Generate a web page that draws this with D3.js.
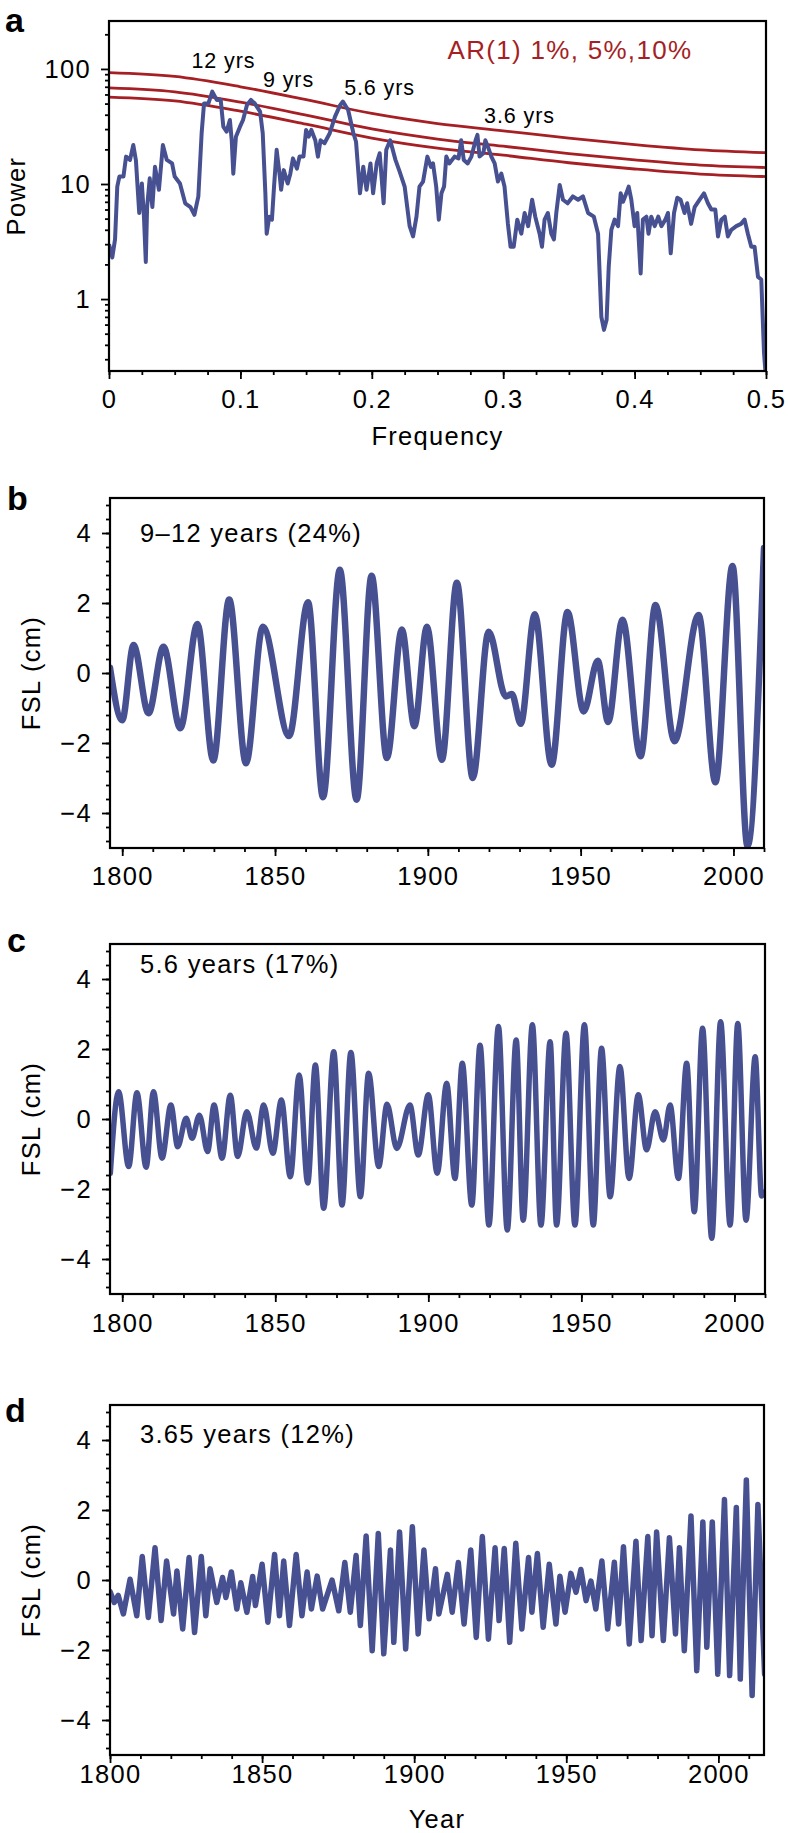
<!DOCTYPE html>
<html><head><meta charset="utf-8">
<script src="https://cdn.jsdelivr.net/npm/d3@7"></script>
<style>
body{margin:0;background:#fff}
svg{display:block}
</style></head>
<body>
<svg id="chart" width="788" height="1833"></svg>
<script>
// ---------- DATA ----------
// Panel a: power spectrum
const specFreq = [0,0.0025,0.0046,0.0063,0.0079,0.011,0.013,0.016,0.0185,0.0205,0.023,0.025,0.0266,0.028,0.029,0.031,0.033,0.035,0.038,0.041,0.044,0.048,0.050,0.054,0.058,0.062,0.065,0.068,0.0705,0.0723,0.0756,0.0786,0.082,0.085,0.087,0.0895,0.092,0.0934,0.0946,0.0966,0.0997,0.102,0.105,0.108,0.111,0.115,0.117,0.119,0.120,0.122,0.124,0.1256,0.1276,0.130,0.131,0.133,0.136,0.138,0.140,0.143,0.145,0.148,0.150,0.152,0.154,0.157,0.159,0.161,0.164,0.168,0.172,0.176,0.178,0.182,0.186,0.188,0.191,0.1935,0.196,0.199,0.201,0.2037,0.206,0.209,0.211,0.214,0.218,0.221,0.225,0.2288,0.2314,0.234,0.2363,0.239,0.2423,0.245,0.2466,0.249,0.251,0.253,0.255,0.2567,0.259,0.263,0.266,0.268,0.270,0.273,0.2758,0.279,0.2804,0.282,0.2849,0.2864,0.2884,0.291,0.2935,0.296,0.2986,0.301,0.3036,0.3056,0.308,0.3107,0.3138,0.3163,0.319,0.322,0.3244,0.3277,0.3295,0.3315,0.334,0.3366,0.3386,0.3404,0.343,0.3455,0.349,0.353,0.357,0.3607,0.3646,0.369,0.3722,0.3747,0.3767,0.3787,0.3803,0.3823,0.3848,0.3874,0.3894,0.3912,0.3937,0.3955,0.3975,0.400,0.402,0.4046,0.4063,0.409,0.4106,0.4127,0.4153,0.418,0.4204,0.4234,0.4254,0.4275,0.430,0.4325,0.435,0.438,0.440,0.443,0.4457,0.4495,0.4528,0.4558,0.4584,0.4614,0.4635,0.466,0.4686,0.471,0.4736,0.4774,0.481,0.4837,0.4862,0.4888,0.4913,0.4939,0.4964,0.4985,0.4995];
const specPower = [3.0,2.3,3.3,9.5,11.6,11.6,17.3,16.2,21.8,16,5.6,10.1,5.2,2.1,6.3,11.2,6.3,14.1,8.9,21.8,16.2,15.1,11.6,10.1,6.8,6.3,5.4,7.8,27.6,50,50,63.5,53.8,54,31.5,28.5,36,24,12.3,25.8,31.5,36,48.7,53.8,50,42.5,27.6,8.3,3.7,5.2,4.9,9.5,19.8,11.6,8.9,13.2,10.1,12.3,16.7,13.6,17.3,17.3,29.5,25.8,29.5,24,17.3,24,22.6,27.6,38.5,48.7,52,44,27.6,23.3,8.3,14.1,8.9,15.1,8.3,15.1,18.5,6.8,19.8,24,16.2,13,9.5,4.3,3.5,5.2,9.5,10.5,17.3,14.1,15.1,9.5,4.9,8.3,9.5,17.3,15.1,17.3,16.7,24,16.2,15.1,17.3,24,26.7,17.3,18.5,24,21,17.3,15.1,10.5,12.3,9.5,4.5,2.85,2.85,4.9,3.7,5.6,4.3,7.3,5.2,3.7,2.85,4.9,5.6,3.7,3.3,5.6,9.8,7.3,6.8,7.8,7.3,7.8,5.6,5.2,3.7,0.70,0.54,0.66,1.9,4.0,4.9,4.3,8.3,7.0,8.3,9.5,7.3,4.3,5.6,1.67,4.9,5.2,3.7,5.2,4.3,5.2,4.3,4.9,5.6,2.5,5.6,7.6,7.3,5.6,6.8,4.5,6.3,7.3,8.3,6.8,6.0,6.0,3.5,4.9,5.2,3.5,4.0,4.3,4.5,4.9,3.7,2.85,2.85,1.56,1.48,0.34,0.24];
// AR(1) significance levels
const arFreq = [0,0.05,0.1,0.15,0.2,0.25,0.3,0.35,0.4,0.45,0.5];
const ar1pct  = [93,86,70,54,41,33.5,29,25,22,19.8,18.7];
const ar5pct  = [68.4,63.2,51.5,39.7,30.1,24.6,21.3,18.4,16.2,14.6,13.9];
const ar10pct = [57,52.7,42.9,33.1,25.1,20.5,17.8,15.3,13.5,12.2,11.6];
const peakNames = ["12 yrs","9 yrs","5.6 yrs","3.6 yrs"];
const peakFreq  = [0.0871,0.1366,0.2059,0.3124];
const peakPower = [102,69.7,59.4,33.9];
const arLegend = "AR(1) 1%, 5%,10%";
const freqTicks = [0,0.1,0.2,0.3,0.4,0.5];
const powerTicks = [1,10,100];

// Panel b: 9–12 years
const bYears = [1796,1800,1803.7,1808.6,1813.5,1819,1824.6,1829.8,1835,1840.5,1846,1854.6,1860.8,1865.7,1871.2,1876.7,1881.6,1886.6,1891.5,1895.6,1899.7,1904.6,1909.5,1914.7,1919.9,1925.5,1927.5,1930.4,1935,1940.5,1945.7,1951,1955.6,1959,1963.7,1969.6,1974.5,1980.7,1988.6,1994.1,1999.7,2004.6,2010];
const bValues = [0.15,-1.35,0.8,-1.15,0.75,-1.58,1.4,-2.5,2.1,-2.58,1.32,-1.8,2.02,-3.55,2.95,-3.62,2.78,-2.43,1.24,-1.52,1.32,-2.48,2.58,-3.0,1.18,-0.67,-0.6,-1.45,1.68,-2.62,1.74,-1.1,0.35,-1.4,1.52,-2.38,1.94,-1.95,1.66,-3.12,3.06,-4.95,3.57];

// Panel c: 5.6 years
const cYears = [1796.1,1798.8,1802.1,1804.8,1807.8,1810.2,1813.0,1815.9,1818.1,1820.9,1822.8,1825.2,1827.9,1830.0,1832.6,1835.3,1837.7,1840.7,1843.8,1846.2,1849.2,1852.0,1854.9,1857.8,1860.6,1863.1,1865.8,1869.1,1871.8,1874.7,1877.8,1880.5,1883.8,1886.5,1889.7,1894.0,1896.7,1900.0,1902.9,1906.0,1908.7,1911.1,1914.2,1916.9,1919.8,1922.9,1925.8,1928.7,1931.0,1934.0,1936.8,1939.8,1941.9,1945.0,1947.9,1951.0,1953.9,1956.6,1959.4,1962.6,1965.6,1968.6,1971.3,1974.1,1976.8,1979.0,1981.7,1984.4,1986.9,1989.6,1992.6,1995.5,1998.6,2001.1,2003.8,2006.8,2008.9,2010.0];
const cValues = [-1.55,0.78,-1.36,0.75,-1.38,0.78,-1.12,0.4,-0.79,0.02,-0.55,0.11,-0.93,0.4,-1.12,0.68,-1.07,0.21,-0.83,0.4,-0.98,0.54,-1.65,1.26,-1.83,1.54,-2.55,1.92,-2.46,1.9,-2.22,1.31,-1.36,0.42,-0.84,0.4,-1.03,0.69,-1.55,1.02,-1.7,1.59,-2.46,2.11,-3.03,2.64,-3.17,2.26,-2.89,2.69,-3.03,2.21,-3.03,2.45,-3.03,2.69,-3.03,2.02,-2.22,1.5,-1.7,0.69,-0.88,0.21,-0.6,0.4,-1.7,1.59,-2.65,2.59,-3.41,2.78,-3.03,2.73,-2.89,1.78,-2.2,-2.08];

// Panel d: 3.65 years
const dYears = [1800,1801.4,1802.7,1804.4,1806.6,1808.8,1810.6,1812.6,1814.8,1816.8,1818.6,1820.9,1822.0,1823.9,1826.0,1827.8,1830.0,1831.5,1832.9,1835.1,1837.0,1838.1,1839.9,1841.7,1843.0,1845.0,1846.9,1847.8,1850.0,1851.9,1854.1,1855.7,1857.1,1859.0,1861.2,1863.1,1864.8,1866.2,1868.1,1869.9,1873.0,1875.2,1877.2,1879.0,1880.9,1882.3,1884.2,1886.2,1888.2,1890.0,1892.2,1893.3,1895.2,1897.2,1899.4,1901.3,1903.2,1904.9,1907.0,1908.1,1910.9,1912.5,1914.5,1916.4,1918.6,1920.4,1922.4,1924.4,1926.6,1927.9,1929.6,1931.4,1933.4,1935.4,1937.6,1938.7,1940.5,1942.4,1944.4,1946.6,1947.9,1949.6,1951.5,1953.2,1954.8,1956.5,1958.1,1959.7,1961.7,1963.6,1965.8,1967.2,1968.8,1970.7,1972.9,1974.6,1976.8,1978.2,1979.7,1981.9,1983.9,1985.9,1987.2,1988.8,1991.0,1992.9,1994.9,1996.2,1998.0,1999.8,2002.0,2003.7,2005.9,2007.2,2009.2,2011.1,2013.0,2015.2];
const dValues = [-0.33,-0.64,-0.44,-0.97,0.02,-1.02,0.67,-1.07,0.92,-1.16,0.54,-0.97,0.26,-1.4,0.64,-1.5,0.67,-1.02,0.32,-0.64,0.07,-0.5,0.23,-0.83,-0.08,-0.92,0.1,-0.73,0.45,-1.21,0.73,-1.02,0.54,-1.3,0.73,-1.02,0.23,-0.83,0.11,-0.83,0.0,-0.88,0.5,-0.92,0.7,-1.3,1.26,-2.02,1.33,-2.11,0.86,-1.78,1.37,-1.97,1.52,-1.54,0.86,-1.11,0.32,-0.97,0.16,-0.92,0.5,-1.26,0.86,-1.64,1.24,-1.69,0.92,-1.16,0.9,-1.78,1.05,-1.4,0.64,-0.92,0.76,-1.35,0.45,-1.26,0.11,-0.92,0.19,-0.35,0.3,-0.59,-0.03,-0.83,0.54,-1.4,0.51,-1.26,0.95,-1.83,1.11,-1.73,1.24,-1.59,1.37,-1.73,1.21,-1.54,0.92,-2.02,1.83,-2.59,1.66,-1.92,1.66,-2.69,2.3,-2.73,2.07,-2.83,2.86,-3.3,2.16,-2.7];

const fslTicks = [-4,-2,0,2,4];
const yearTicks = [1800,1850,1900,1950,2000];
const panelLetters = ["a","b","c","d"];
const bandLabels = ["9\u201312 years (24%)","5.6 years (17%)","3.65 years (12%)"];

// ---------- STYLE ----------
const FONT = '"Liberation Sans", Arial, Helvetica, sans-serif';
const BLUE = "#475191";
const RED = "#a51f24";
const FS = 25.5, LS = 1.3;

const svg = d3.select("#chart").attr("font-family", FONT);
const defs = svg.append("defs");

function styleAxis(g){
  g.select(".domain").remove();
  g.selectAll(".tick line").attr("stroke","#000").attr("stroke-width",1.8);
  g.selectAll(".tick text").attr("font-size",FS).attr("letter-spacing",LS)
    .attr("fill","#000").attr("font-family",FONT);
}
function frame(b){
  svg.append("rect").attr("x",b.x0).attr("y",b.y0)
    .attr("width",b.x1-b.x0).attr("height",b.y1-b.y0)
    .attr("fill","none").attr("stroke","#000").attr("stroke-width",2.2);
}
function clip(id,b){
  defs.append("clipPath").attr("id",id).append("rect")
    .attr("x",b.x0).attr("y",b.y0).attr("width",b.x1-b.x0).attr("height",b.y1-b.y0);
  return `url(#${id})`;
}
function letter(t,x,y){
  svg.append("text").attr("x",x).attr("y",y).text(t)
    .attr("font-size",34).attr("font-weight","bold").attr("fill","#000");
}
function yTitle(t,x,yc){
  svg.append("text").attr("transform",`translate(${x},${yc}) rotate(-90)`)
    .attr("text-anchor","middle").attr("font-size",FS).attr("letter-spacing",LS)
    .attr("fill","#000").text(t);
}

// ---------- PANEL A ----------
const A = {x0:109,x1:766,y0:21,y1:371};
const xA = d3.scaleLinear().domain([0,0.5]).range([A.x0,A.x1]);
const yA = d3.scaleLog().domain([0.237,261]).range([A.y1,A.y0]);
const clipA = clip("clipA",A);

const arLine = d3.line().x(d=>xA(d[0])).y(d=>yA(d[1])).curve(d3.curveMonotoneX);
[ar1pct,ar5pct,ar10pct].forEach(arr=>{
  svg.append("path").datum(arFreq.map((f,i)=>[f,arr[i]]))
    .attr("d",arLine).attr("fill","none").attr("stroke",RED).attr("stroke-width",2.8)
    .attr("clip-path",clipA);
});
const specLine = d3.line().x(d=>xA(d[0])).y(d=>yA(d[1]));
svg.append("path").datum(specFreq.map((f,i)=>[f,specPower[i]]))
  .attr("d",specLine).attr("fill","none").attr("stroke",BLUE).attr("stroke-width",4)
  .attr("stroke-linejoin","round").attr("clip-path",clipA);

// axes A
const minorFreq = d3.range(0,0.5001,0.025);
svg.append("g").attr("transform",`translate(0,${A.y1})`)
  .call(d3.axisBottom(xA).tickValues(minorFreq).tickSize(4).tickFormat("")).call(styleAxis);
svg.append("g").attr("transform",`translate(0,${A.y1})`)
  .call(d3.axisBottom(xA).tickValues(freqTicks).tickSize(8).tickPadding(11).tickFormat(d3.format("~g"))).call(styleAxis);
const minorLog = [];
[0.1,1,10,100].forEach(dec=>{for(let k=2;k<=9;k++){const v=dec*k; if(v>0.237&&v<261) minorLog.push(v);}});
svg.append("g").attr("transform",`translate(${A.x0},0)`)
  .call(d3.axisLeft(yA).tickValues(minorLog).tickSize(4).tickFormat("")).call(styleAxis);
svg.append("g").attr("transform",`translate(${A.x0},0)`)
  .call(d3.axisLeft(yA).tickValues(powerTicks).tickSize(8).tickPadding(10).tickFormat(d3.format("d"))).call(styleAxis);
frame(A);

peakNames.forEach((t,i)=>{
  svg.append("text").attr("x",xA(peakFreq[i])).attr("y",yA(peakPower[i]))
    .attr("text-anchor","middle").attr("font-size",21.5).attr("letter-spacing",0.9)
    .attr("fill","#000").text(t);
});
svg.append("text").attr("x",xA(0.3508)).attr("y",yA(122)).attr("text-anchor","middle")
  .attr("font-size",26).attr("letter-spacing",1.3).attr("fill",RED).text(arLegend);

svg.append("text").attr("x",(A.x0+A.x1)/2).attr("y",445).attr("text-anchor","middle")
  .attr("font-size",FS).attr("letter-spacing",LS).attr("fill","#000").text("Frequency");
yTitle("Power",25,(A.y0+A.y1)/2);
letter(panelLetters[0],5,32);

// ---------- PANELS B, C, D ----------
function tsPanel(opt){
  const b = opt.box;
  const x = d3.scaleLinear().domain(opt.xdom).range([b.x0,b.x1]);
  const y = d3.scaleLinear().domain([-5,5]).range([b.y1,b.y0]);
  const cp = clip(opt.id,b);
  const line = d3.line().x(d=>x(d[0])).y(d=>y(d[1])).curve(opt.curve);
  svg.append("path").datum(opt.years.map((t,i)=>[t,opt.values[i]]))
    .attr("d",line).attr("fill","none").attr("stroke",BLUE).attr("stroke-width",opt.lw)
    .attr("stroke-linejoin","round").attr("stroke-linecap","round").attr("clip-path",cp);

  const minorYears = d3.range(1800,opt.xdom[1]+0.01,10);
  svg.append("g").attr("transform",`translate(0,${b.y1})`)
    .call(d3.axisBottom(x).tickValues(minorYears).tickSize(4).tickFormat("")).call(styleAxis);
  svg.append("g").attr("transform",`translate(0,${b.y1})`)
    .call(d3.axisBottom(x).tickValues(yearTicks).tickSize(8).tickPadding(opt.xpad).tickFormat(d3.format("d"))).call(styleAxis);
  const minorY = d3.range(-4.8,4.81,0.4).map(v=>+v.toFixed(2));
  svg.append("g").attr("transform",`translate(${b.x0},0)`)
    .call(d3.axisLeft(y).tickValues(minorY).tickSize(4).tickFormat("")).call(styleAxis);
  svg.append("g").attr("transform",`translate(${b.x0},0)`)
    .call(d3.axisLeft(y).tickValues(fslTicks).tickSize(8).tickPadding(10).tickFormat(d3.format("d"))).call(styleAxis);
  frame(b);
  svg.append("text").attr("x",140).attr("y",opt.labelY).attr("font-size",FS)
    .attr("letter-spacing",LS).attr("fill","#000").text(opt.label);
  yTitle("FSL (cm)",40,(b.y0+b.y1)/2);
  letter(opt.letter,opt.letterX,opt.letterY);
}

tsPanel({id:"clipB",box:{x0:110,x1:764,y0:498,y1:848},xdom:[1796,2010],years:bYears,values:bValues,
  curve:d3.curveMonotoneX,lw:6.5,xpad:11,label:bandLabels[0],labelY:542,letter:panelLetters[1],letterX:7,letterY:510});
tsPanel({id:"clipC",box:{x0:110,x1:765,y0:944,y1:1294},xdom:[1796,2010],years:cYears,values:cValues,
  curve:d3.curveMonotoneX,lw:5.5,xpad:12,label:bandLabels[1],labelY:973,letter:panelLetters[2],letterX:7,letterY:952});
tsPanel({id:"clipD",box:{x0:110,x1:764,y0:1405,y1:1755},xdom:[1800,2015],years:dYears,values:dValues,
  curve:d3.curveLinear,lw:5.5,xpad:2,label:bandLabels[2],labelY:1443,letter:panelLetters[3],letterX:5,letterY:1422});

svg.append("text").attr("x",437).attr("y",1828).attr("text-anchor","middle")
  .attr("font-size",FS).attr("letter-spacing",LS).attr("fill","#000").text("Year");
</script>
</body></html>
